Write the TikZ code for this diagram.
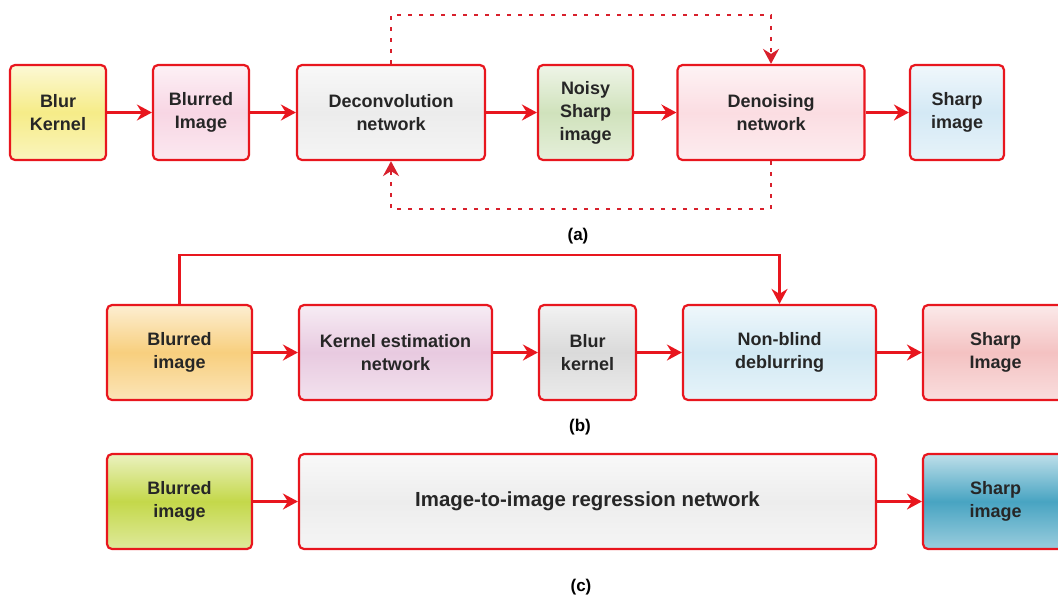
\documentclass[tikz,border=0pt]{standalone}
\usepackage{fontspec}
\setmainfont{Liberation Sans}
\usetikzlibrary{arrows.meta}

\definecolor{boxred}{HTML}{E8161E}
\definecolor{dashred}{HTML}{D8202C}
\definecolor{kernYellow}{HTML}{F6EC88}
\definecolor{blurPink}{HTML}{F8D6E4}
\definecolor{deconvGray}{HTML}{ECECEC}
\definecolor{noisyGreen}{HTML}{D0E2BC}
\definecolor{denoisePink}{HTML}{FBDDE2}
\definecolor{sharpBlue}{HTML}{D4E9F5}
\definecolor{blurOrange}{HTML}{F8CF7E}
\definecolor{kernPurple}{HTML}{E8CAE0}
\definecolor{kernGray}{HTML}{DADADA}
\definecolor{nbBlue}{HTML}{D2E9F4}
\definecolor{sharpRed}{HTML}{F4C2C2}
\definecolor{blurLime}{HTML}{C4D84A}
\definecolor{regGray}{HTML}{EDEDED}
\definecolor{sharpTeal}{HTML}{48A4C2}

\begin{document}
\begin{tikzpicture}[x=0.5pt, y=-0.5pt,
    box/.style={draw=boxred, line width=1.1pt, rounded corners=2.5pt, align=center,
        font=\bfseries\fontsize{9}{11.5}\selectfont, text=black!85,
        minimum height=47.5pt, inner sep=2pt},
    glossy/.style={top color=#1!35!white, bottom color=#1!55!white, middle color=#1},
    link/.style={draw=boxred, line width=1.1pt, -{Stealth[length=7.5pt,width=8pt,inset=2.5pt]}},
    fb/.style={link, draw=dashred, dash pattern=on 2pt off 3.5pt},
    tag/.style={font=\bfseries\fontsize{8.5}{10}\selectfont}]
    \useasboundingbox (0,0) rectangle (1058,596);

    % (a) deconvolution + denoising
    \node[box, glossy=kernYellow, minimum width=48pt] (a1) at (58,112.5) {Blur\\Kernel};
    \node[box, glossy=blurPink, minimum width=48pt] (a2) at (201,112.5) {Blurred\\Image};
    \node[box, glossy=deconvGray, minimum width=94pt] (a3) at (391,112.5) {Deconvolution\\network};
    \node[box, glossy=noisyGreen, minimum width=47.5pt] (a4) at (585.5,112.5) {Noisy\\Sharp\\image};
    \node[box, glossy=denoisePink, minimum width=93.5pt] (a5) at (771,112.5) {Denoising\\network};
    \node[box, glossy=sharpBlue, minimum width=47pt] (a6) at (957,112.5) {Sharp\\image};
    \foreach \s/\t in {a1/a2, a2/a3, a3/a4, a4/a5, a5/a6} {
        \draw[link] (\s) -- (\t);
    }
    % dotted loops between the two networks
    \draw[fb] (a3.north) -- ++(0,-49) -| (a5.north);
    \draw[fb] (a5.south) -- ++(0,48) -| (a3.south);
    \node[tag] (ta) at (578,236) {(a)};

    % (b) kernel estimation + non-blind deblurring
    \node[box, glossy=blurOrange, minimum width=72.5pt] (b1) at (179.5,352.5) {Blurred\\image};
    \node[box, glossy=kernPurple, minimum width=96.5pt] (b2) at (395.5,352.5) {Kernel estimation\\network};
    \node[box, glossy=kernGray, minimum width=48.5pt] (b3) at (587.5,352.5) {Blur\\kernel};
    \node[box, glossy=nbBlue, minimum width=96.5pt] (b4) at (779.5,352.5) {Non-blind\\deblurring};
    \node[box, glossy=sharpRed, minimum width=72.5pt] (b5) at (995.5,352.5) {Sharp\\Image};
    \foreach \s/\t in {b1/b2, b2/b3, b3/b4, b4/b5} {
        \draw[link] (\s) -- (\t);
    }
    \draw[link] (b1.north) -- ++(0,-49) -| (b4.north);
    \node[tag] (tb) at (580,427) {(b)};

    % (c) end-to-end regression
    \begin{scope}[every node/.append style={minimum height=53.5pt, font=\bfseries\fontsize{10.5}{12.5}\selectfont}]
        \node[box, glossy=blurLime, minimum width=72.5pt] (c1) at (179.5,501.5) {Blurred\\image};
        \node[box, glossy=regGray, minimum width=288.5pt, font=\bfseries\fontsize{10.2}{12.5}\selectfont] (c2) at (587.5,501.5) {Image-to-image regression network};
        \node[box, glossy=sharpTeal, minimum width=72.5pt] (c3) at (995.5,501.5) {Sharp\\image};
    \end{scope}
    \draw[link] (c1) -- (c2);
    \draw[link] (c2) -- (c3);
    \node[tag] (tc) at (581,587) {(c)};
\end{tikzpicture}
\end{document}
